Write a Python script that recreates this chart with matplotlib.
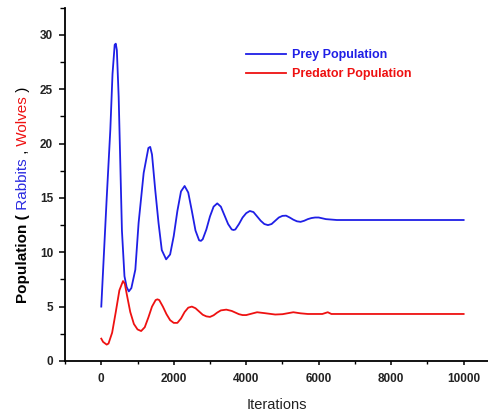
import matplotlib
matplotlib.use("Agg")
import matplotlib.pyplot as plt
from matplotlib.ticker import MultipleLocator

plt.rcParams["font.family"] = ["Liberation Sans", "DejaVu Sans"]

# prey (rabbits)
prey_iter = [0, 60, 150, 250, 310, 370, 400, 430, 480, 525, 570, 640, 700, 760,
             830, 940, 1030, 1170, 1300, 1350, 1400, 1490, 1580, 1670, 1790,
             1900, 2000, 2100, 2200, 2300, 2400, 2500, 2600, 2700, 2750, 2800, 2900,
             3000, 3100, 3200, 3300, 3400, 3500, 3600, 3650, 3700, 3800, 3900, 4000,
             4100, 4200, 4300, 4400, 4500, 4600, 4700, 4800, 4900, 5000, 5100, 5200,
             5300, 5400, 5500, 5600, 5700, 5800, 5900, 6000, 6200, 6500, 7000, 8000,
             9000, 10000]
prey_pop = [5.0, 9.0, 15.0, 21.3, 26.4, 29.1, 29.2, 28.6, 24.3, 18.2, 12.0, 7.8, 6.8, 6.4,
            6.7, 8.4, 12.7, 17.3, 19.6, 19.7, 19.0, 15.7, 12.7, 10.2, 9.35,
            9.8, 11.5, 13.8, 15.6, 16.1, 15.5, 13.8, 12.0, 11.1, 11.05, 11.2, 12.1,
            13.3, 14.2, 14.5, 14.2, 13.4, 12.6, 12.1, 12.05, 12.1, 12.6, 13.2, 13.6,
            13.8, 13.7, 13.3, 12.9, 12.6, 12.5, 12.6, 12.9, 13.2, 13.35, 13.37, 13.2,
            13.0, 12.85, 12.8, 12.9, 13.05, 13.15, 13.2, 13.2, 13.05, 12.97, 12.97, 12.97,
            12.97, 12.97]

# predator (wolves)
pred_iter = [0, 50, 150, 200, 300, 400, 500, 600, 650, 700, 800, 900, 1000, 1100,
             1200, 1300, 1400, 1500, 1550, 1600, 1700, 1800, 1900, 2000, 2100, 2200,
             2300, 2400, 2500, 2600, 2700, 2800, 2900, 3000, 3100, 3200, 3300, 3450,
             3600, 3800, 3900, 4000, 4300, 4500, 4800, 5000, 5300, 5500, 5700, 6100,
             6250, 6350, 7000, 8000, 9000, 10000]
pred_pop = [2.05, 1.75, 1.5, 1.6, 2.6, 4.5, 6.5, 7.35, 7.1, 6.2, 4.5, 3.4, 2.9, 2.75,
            3.1, 4.0, 5.0, 5.6, 5.67, 5.6, 5.0, 4.3, 3.75, 3.5, 3.5, 3.9,
            4.5, 4.9, 5.0, 4.85, 4.55, 4.25, 4.1, 4.05, 4.2, 4.45, 4.65, 4.72,
            4.6, 4.3, 4.22, 4.22, 4.48, 4.4, 4.27, 4.3, 4.48, 4.38, 4.32, 4.32,
            4.48, 4.32, 4.32, 4.32, 4.32, 4.32]

x_ticks = [0, 2000, 4000, 6000, 8000, 10000]
y_ticks = [0, 5, 10, 15, 20, 25, 30]

fig = plt.figure(figsize=(4.89, 4.12), dpi=100)
ax = fig.add_axes([0.133, 0.124, 0.867, 0.857])

ax.plot(prey_iter, prey_pop, color="#1f1fe6", linewidth=1.3, label="Prey Population")
ax.plot(pred_iter, pred_pop, color="#ee1111", linewidth=1.3, label="Predator Population")

ax.set_xlim(-1000, 10700)
ax.set_ylim(0, 32.5)
ax.set_xticks(x_ticks)
ax.set_yticks(y_ticks)
ax.xaxis.set_minor_locator(MultipleLocator(1000))
ax.yaxis.set_minor_locator(MultipleLocator(2.5))

for side in ("top", "right"):
    ax.spines[side].set_visible(False)
for side in ("left", "bottom"):
    ax.spines[side].set_linewidth(1.3)

ax.tick_params(axis="y", which="major", length=4.5, width=1.1, pad=4, labelsize=8.5)
ax.tick_params(axis="y", which="minor", length=3.5, width=1.0)
ax.tick_params(axis="x", which="major", length=3, width=1.1, pad=6, labelsize=8.5)
ax.tick_params(axis="x", which="minor", length=2, width=1.0)
for lab in ax.get_xticklabels() + ax.get_yticklabels():
    lab.set_fontweight("bold")
    lab.set_color("#222222")

ax.set_xlabel("Iterations", fontsize=10.5, color="#222222", labelpad=9)

leg = ax.legend(loc="upper left", bbox_to_anchor=(0.4, 0.915), frameon=False,
                handlelength=3.2, handletextpad=0.5, labelspacing=0.55,
                prop={"weight": "bold", "size": 9}, labelcolor=["#1f1fe6", "#ee1111"])

# ylabel built from coloured pieces, stacked bottom to top
pieces = [("Population (", "black", "bold"),
          (" Rabbits", "#2a2ae0", "normal"),
          (" ,", "black", "normal"),
          (" Wolves", "#ee1111", "normal"),
          (" )", "black", "normal")]
renderer = fig.canvas.get_renderer()
x0, y0 = 0.055, 0.265
for s, c, w in pieces:
    t = fig.text(x0, y0, s, rotation=90, rotation_mode="anchor", ha="left", va="baseline",
                 color=c, fontweight=w, fontsize=11)
    bb = t.get_window_extent(renderer)
    y0 = fig.transFigure.inverted().transform((0, bb.y1))[1]

fig.savefig("out.png", dpi=100)
